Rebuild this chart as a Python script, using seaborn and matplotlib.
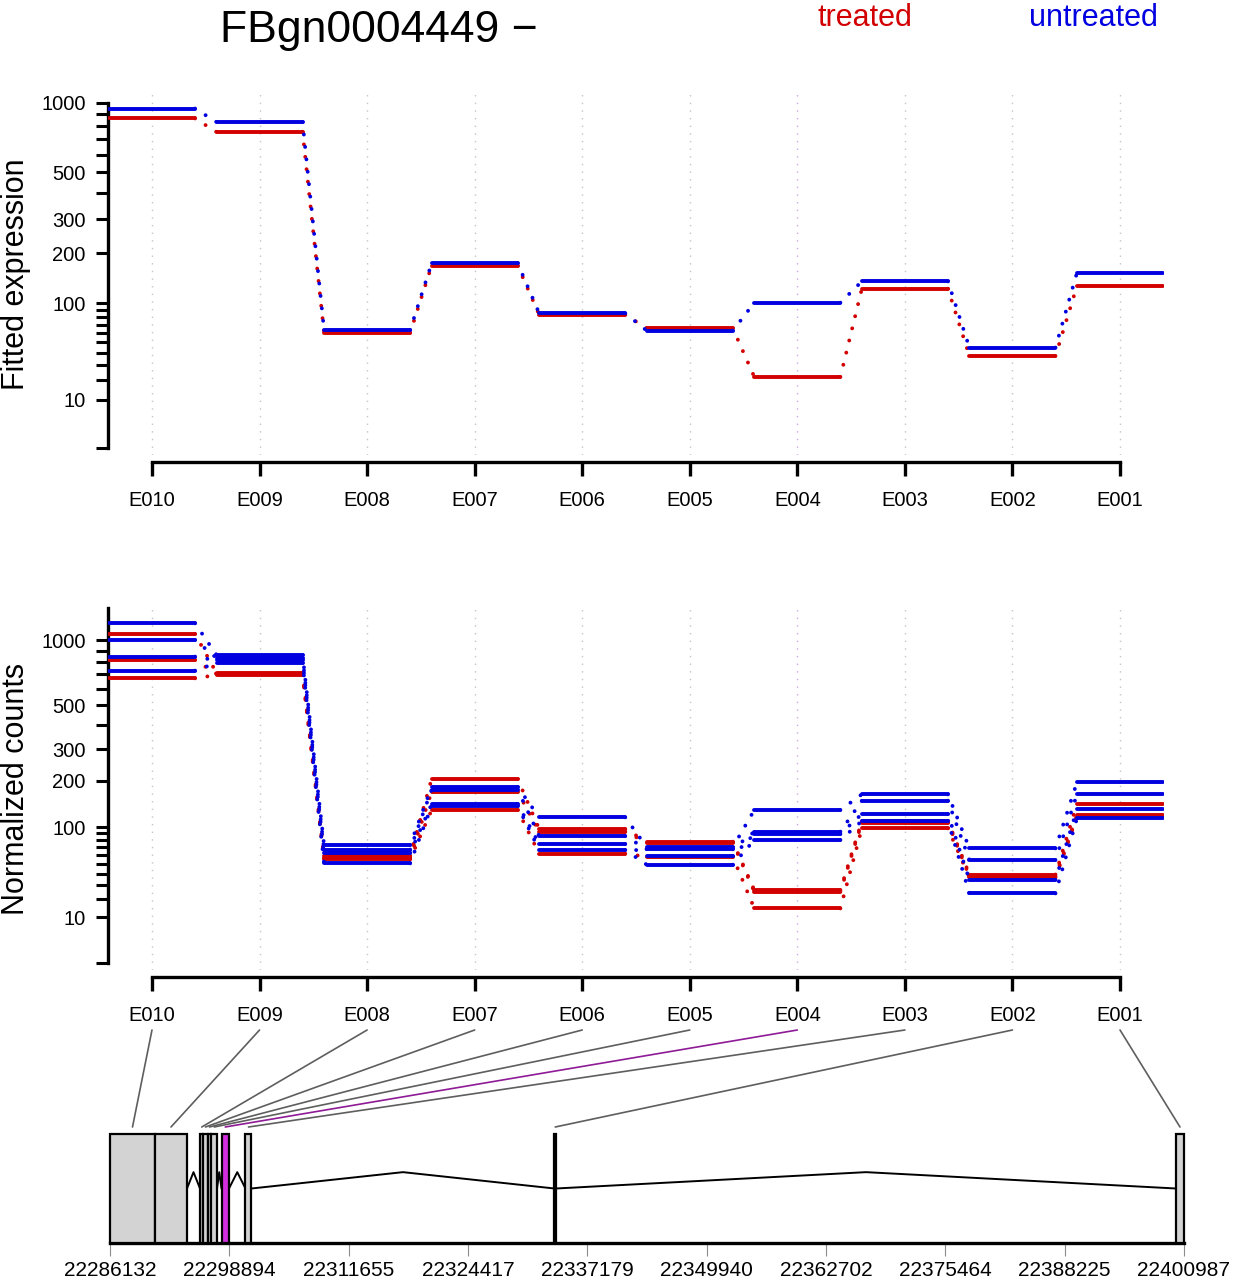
import numpy as np
import pandas as pd
import matplotlib
matplotlib.use("Agg")
import matplotlib.pyplot as plt
from matplotlib.ticker import FixedLocator, FixedFormatter, NullLocator
from matplotlib.patches import ConnectionPatch
from matplotlib.transforms import blended_transform_factory
import seaborn as sns

# ---------------- data ----------------
gene_id = "FBgn0004449"
strand = "\u2212"
exons = ["E010", "E009", "E008", "E007", "E006", "E005", "E004", "E003", "E002", "E001"]
significant_exons = ["E004"]

fitted_treated = [859, 752, 60.4, 170.3, 83.0, 65.6, 21.9, 124.1, 37.4, 129]
fitted_untreated = [945, 829, 63.6, 175.7, 84.9, 62.8, 100.6, 137.8, 44.9, 155.2]

treated1 = [1068, 711, 59.1, 204.8, 97.1, 77.8, 26.2, 110.8, 39.3, 144.7]
treated2 = [816, 704, 57.3, 172.0, 92.8, 76.6, 25.0, 108.1, 37.5, 121.9]
treated3 = [672, 696, 55.2, 131.6, 61.9, 58.2, 14.4, 98.3, 36.6, 118.1]
untreated1 = [1190, 860, 73.2, 183.7, 117.6, 70.1, 131.6, 165.8, 68.7, 195.9]
untreated2 = [1004, 833, 67.0, 177.4, 86.0, 67.5, 92.8, 151.2, 54.4, 165.8]
untreated3 = [845, 812, 62.8, 144.0, 74.6, 59.1, 89.1, 123.8, 34.4, 133.0]
untreated4 = [729, 791, 50.7, 139.8, 66.6, 49.2, 80.2, 110.8, 23.8, 115.7]

exon_start = [22286132, 22290944, 22295757, 22296131, 22296559, 22296986,
              22298056, 22300622, 22333667, 22400130]
exon_end = [22290944, 22294366, 22296131, 22296559, 22296986, 22297575,
            22298858, 22301264, 22333827, 22400987]
genome_ticks = [22286132, 22298894, 22311655, 22324417, 22337179,
                22349940, 22362702, 22375464, 22388225, 22400987]

ytick_values = [0, 10, 20, 30, 40, 50, 60, 70, 80, 90,
                100, 200, 300, 400, 500, 600, 700, 800, 900, 1000]
ytick_labelled = [10, 100, 200, 300, 500, 1000]

RED = "#D20000"
BLUE = "#0000E0"
SIG_FILL = "#D22EDF"
SIG_LINE = "#8E1A96"
SIG_GRID = "#CDA8E6"

# ---------------- style ----------------
sns.set_style("ticks")
plt.rcParams["font.family"] = ["Liberation Sans", "DejaVu Sans"]
plt.rcParams["axes.unicode_minus"] = True
for k in ["text.color", "axes.labelcolor", "xtick.color", "ytick.color", "axes.edgecolor"]:
    plt.rcParams[k] = "black"

W, H = 1233, 1280
fig = plt.figure(figsize=(W / 100, H / 100), dpi=100)


def px_axes(left, top, right, bottom):
    return fig.add_axes([left / W, 1 - bottom / H, (right - left) / W, (bottom - top) / H])


ax1 = px_axes(108, 94, 1164, 455)
ax2 = px_axes(108, 608, 1164, 970)
ax3 = px_axes(110, 1134, 1184, 1243)

A = 0.0045


def fwd(v):
    v = np.asarray(v, dtype=float)
    return np.sign(v) * np.arcsinh(np.sqrt(A * np.abs(v)))


def inv(u):
    u = np.asarray(u, dtype=float)
    return np.sign(u) * np.sinh(np.abs(u)) ** 2 / A


half = 0.4


def build_frames(series):
    seg_rows, con_rows = [], []
    for name, cond, vals in series:
        n = len(vals)
        for i, v in enumerate(vals):
            seg_rows.append(dict(series=name, cond=cond, unit=f"{name}-{i}", x=i - half, y=v))
            seg_rows.append(dict(series=name, cond=cond, unit=f"{name}-{i}", x=i + half, y=v))
            if i < n - 1:
                con_rows.append(dict(series=name, cond=cond, unit=f"{name}-c{i}", x=i + half, y=v))
                con_rows.append(dict(series=name, cond=cond, unit=f"{name}-c{i}", x=i + 1 - half, y=vals[i + 1]))
    return pd.DataFrame(seg_rows), pd.DataFrame(con_rows)


palette = {"treated": RED, "untreated": BLUE}

top_series = [("treated", "treated", fitted_treated), ("untreated", "untreated", fitted_untreated)]
bot_series = [("t1", "treated", treated1), ("t2", "treated", treated2), ("t3", "treated", treated3),
              ("u1", "untreated", untreated1), ("u2", "untreated", untreated2),
              ("u3", "untreated", untreated3), ("u4", "untreated", untreated4)]


def draw_panel(ax, series, ylim, ylabel, spine_top):
    seg, con = build_frames(series)
    for i, ex in enumerate(exons):
        col = SIG_GRID if ex in significant_exons else "#C4C4C4"
        ax.axvline(i, color=col, lw=1.0, ls=(0, (1, 4.5)), zorder=0)
    for cond in ["treated", "untreated"]:
        sns.lineplot(data=con[con.cond == cond], x="x", y="y", units="unit", estimator=None,
                     sort=False, color=palette[cond], lw=2.8, legend=False, ax=ax,
                     linestyle=(0, (0.01, 3.2)), dash_capstyle="round", zorder=3)
        sns.lineplot(data=seg[seg.cond == cond], x="x", y="y", units="unit", estimator=None,
                     sort=False, color=palette[cond], lw=2.8, legend=False, ax=ax,
                     solid_capstyle="round", zorder=3)
    ax.set_yscale("function", functions=(fwd, inv))
    ax.set_ylim(*ylim)
    ax.set_xlim(-0.409, 9.409)
    ax.yaxis.set_major_locator(FixedLocator(ytick_values))
    ax.yaxis.set_major_formatter(FixedFormatter(
        [str(t) if t in ytick_labelled else "" for t in ytick_values]))
    ax.yaxis.set_minor_locator(NullLocator())
    ax.set_xticks(range(len(exons)))
    ax.set_xticklabels(exons)
    for s in ["top", "right"]:
        ax.spines[s].set_visible(False)
    ax.spines["left"].set_bounds(0, spine_top)
    ax.spines["left"].set_linewidth(2.4)
    ax.spines["bottom"].set_position(("outward", 5))
    ax.spines["bottom"].set_bounds(0, len(exons) - 1)
    ax.spines["bottom"].set_linewidth(2.4)
    ax.tick_params(axis="x", length=10, width=2.4, pad=11, labelsize=14.5, direction="out")
    ax.tick_params(axis="y", length=9, width=2.2, pad=7, labelsize=14.5, direction="out")
    ax.set_xlabel("")
    ax.set_ylabel(ylabel, fontsize=22)
    ax.yaxis.set_label_coords(-0.0725, 0.5)
    ax.patch.set_alpha(0)


draw_panel(ax1, top_series, (-0.19, 1086), "Fitted expression", 1000)
draw_panel(ax2, bot_series, (-0.26, 1388), "Normalized counts", 1388)

# ---------------- gene model ----------------
g0, g1 = genome_ticks[0], genome_ticks[-1]
ax3.set_xlim(g0, g1)
ax3.set_ylim(0, 1)
widths = [e - s for s, e in zip(exon_start, exon_end)]
fills = [SIG_FILL if ex in significant_exons else "#D3D3D3" for ex in exons]
ax3.bar(exon_start, [1] * len(exons), width=widths, align="edge", color=fills,
        edgecolor="black", linewidth=1.6, clip_on=False, zorder=3)
for i in range(len(exons) - 1):
    a, b = exon_end[i], exon_start[i + 1]
    if b > a:
        ax3.plot([a, (a + b) / 2, b], [0.5, 0.65, 0.5], color="black", lw=1.4, zorder=2)
for s in ["top", "right", "left"]:
    ax3.spines[s].set_visible(False)
ax3.spines["bottom"].set_linewidth(2.4)
ax3.set_yticks([])
ax3.set_xticks(genome_ticks)
ax3.set_xticklabels([str(t) for t in genome_ticks])
ax3.tick_params(axis="x", length=9, width=0.8, color="#8C8C8C", pad=4, labelsize=15)
ax3.patch.set_alpha(0)

# lines from exon labels to gene model
tA = blended_transform_factory(ax2.transData, fig.transFigure)
tB = blended_transform_factory(ax3.transData, fig.transFigure)
yA = 1 - 1030 / H
yB = 1 - 1127 / H
for i, ex in enumerate(exons):
    mid = (exon_start[i] + exon_end[i]) / 2
    col = SIG_LINE if ex in significant_exons else "#5E5E5E"
    con = ConnectionPatch(xyA=(i, yA), coordsA=tA, xyB=(mid, yB), coordsB=tB,
                          color=col, lw=1.2)
    fig.add_artist(con)

# ---------------- titles ----------------
fig.text(379 / W, 1 - 42 / H, f"{gene_id} {strand}", fontsize=32, ha="center", va="baseline")
fig.text(865 / W, 1 - 26 / H, "treated", fontsize=22, color=RED, ha="center", va="baseline")
fig.text(1093 / W, 1 - 26 / H, "untreated", fontsize=22, color=BLUE, ha="center", va="baseline")

fig.savefig("out.png", dpi=100)
